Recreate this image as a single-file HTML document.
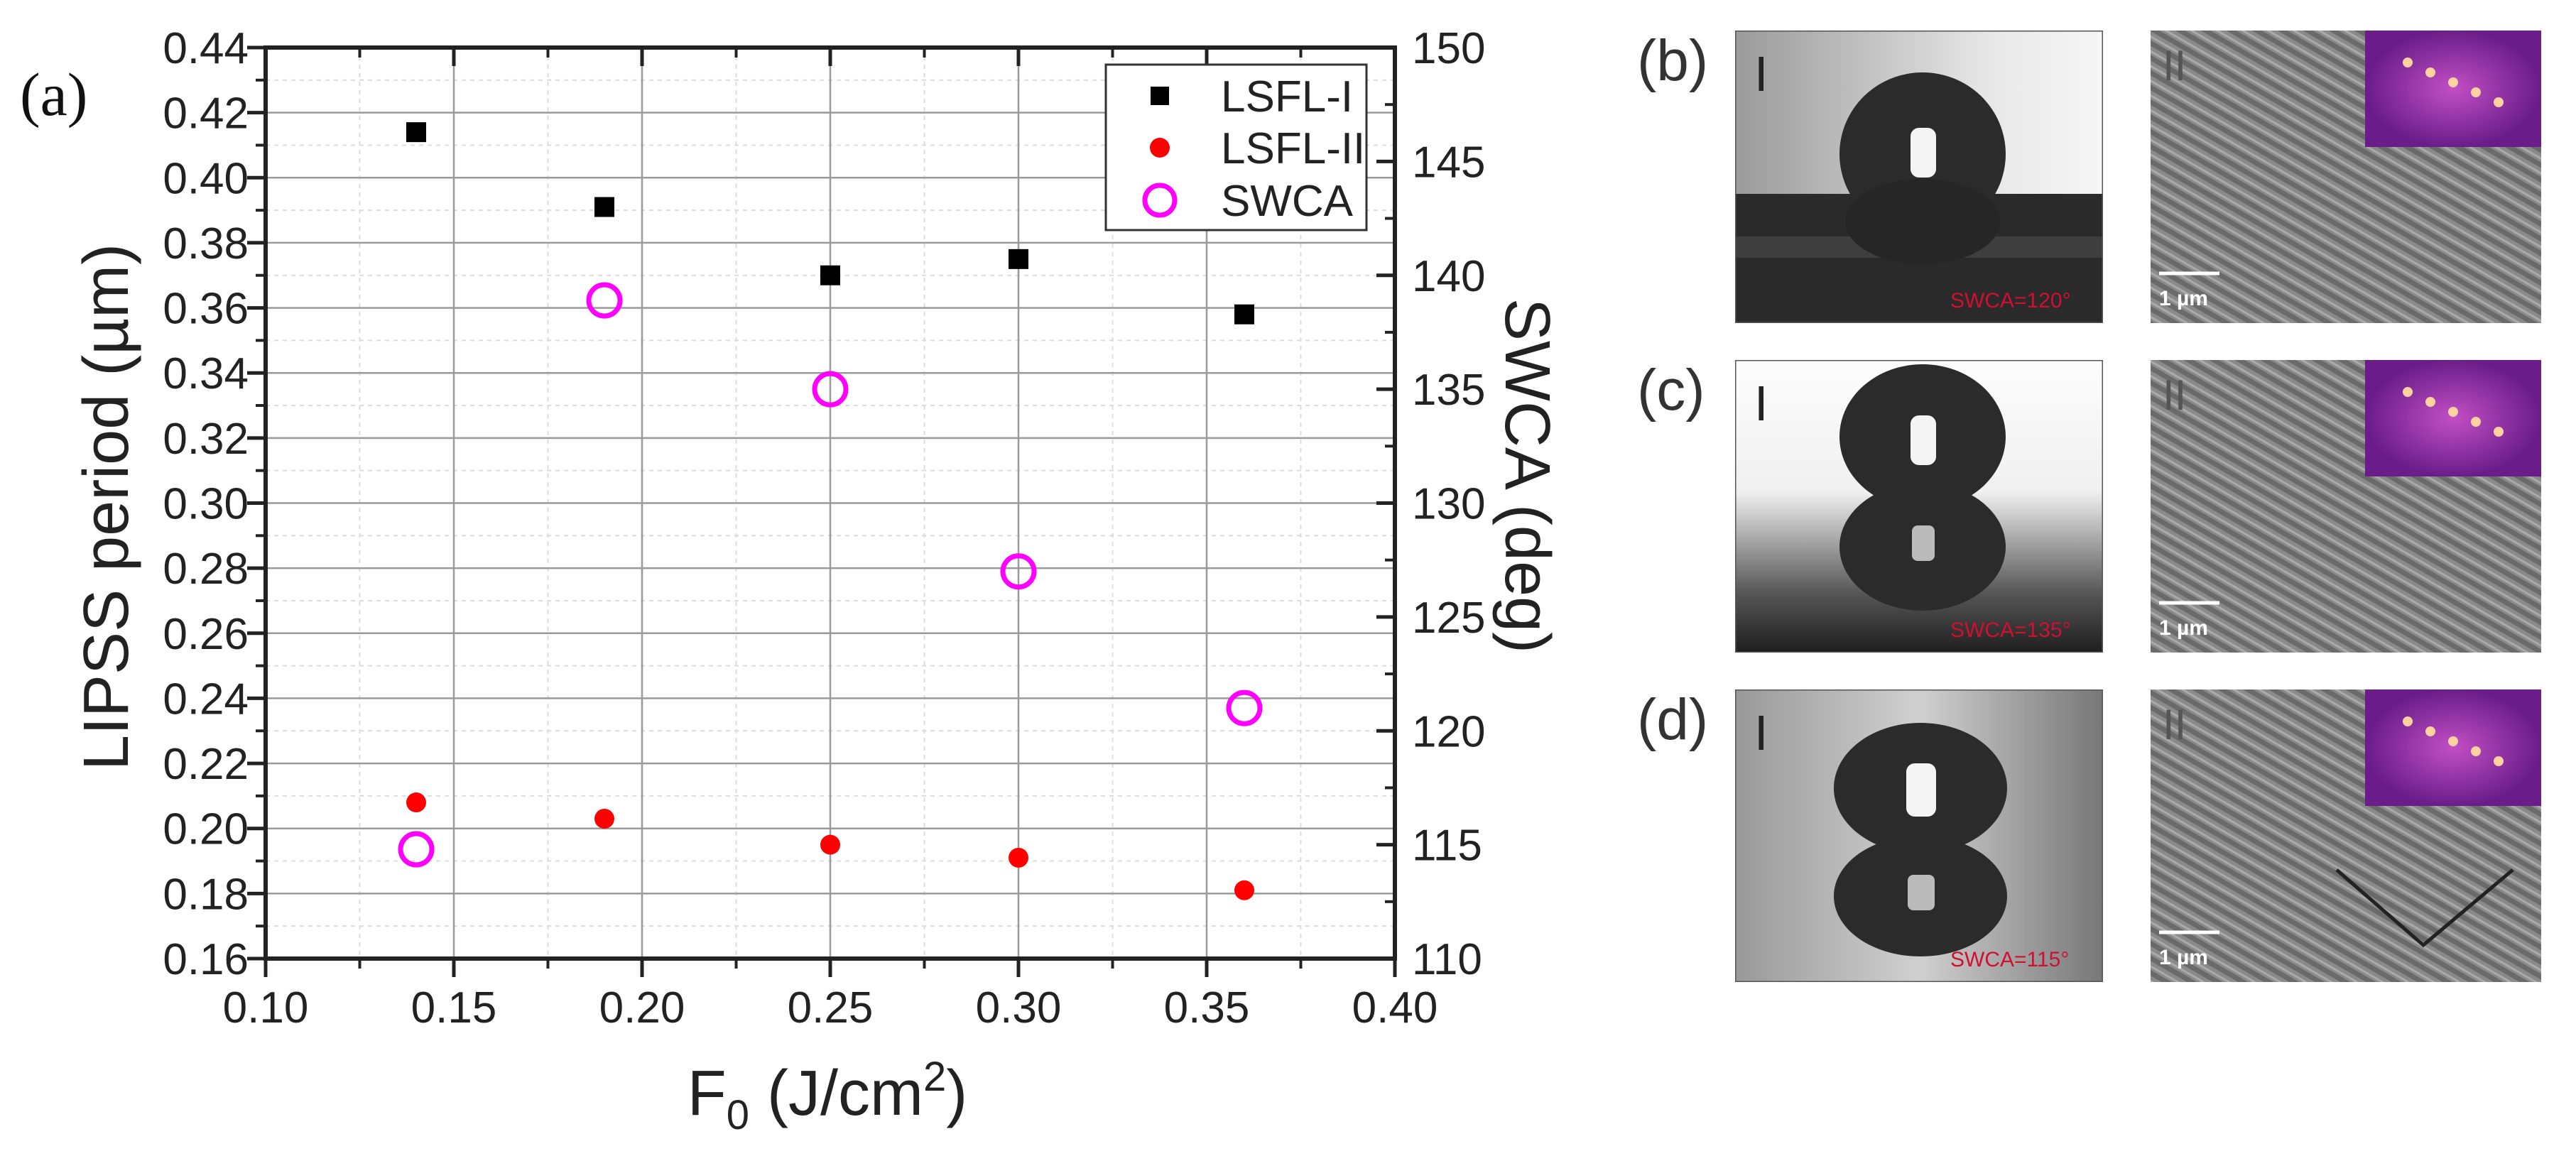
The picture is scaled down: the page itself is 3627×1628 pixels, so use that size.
<!DOCTYPE html>
<html><head><meta charset="utf-8"><style>
html,body{margin:0;padding:0;background:#fff}
body{width:3627px;height:1623px;overflow:hidden;position:relative;font-family:"Liberation Sans",sans-serif}
</style></head><body>
<svg id="fig" width="3627" height="1623" viewBox="0 0 3627 1623" xmlns="http://www.w3.org/2000/svg">
<defs>
<linearGradient id="bgB" x1="0" y1="0" x2="1" y2="0"><stop offset="0" stop-color="#9a9a9a"/><stop offset="0.7" stop-color="#e8e8e8"/><stop offset="1" stop-color="#f6f6f6"/></linearGradient>
<linearGradient id="bgC" x1="0" y1="0" x2="0" y2="1"><stop offset="0" stop-color="#fdfdfd"/><stop offset="0.45" stop-color="#f0f0f0"/><stop offset="0.8" stop-color="#555"/><stop offset="1" stop-color="#1e1e1e"/></linearGradient>
<linearGradient id="bgD" x1="0" y1="0" x2="1" y2="0"><stop offset="0" stop-color="#999"/><stop offset="0.5" stop-color="#d0d0d0"/><stop offset="1" stop-color="#777"/></linearGradient>
<radialGradient id="fft"><stop offset="0" stop-color="#c24fc4"/><stop offset="1" stop-color="#6a1d8a"/></radialGradient>
<pattern id="sem" width="18" height="18" patternUnits="userSpaceOnUse" patternTransform="rotate(-60)"><rect width="18" height="18" fill="#8a8a8a"/><rect width="7" height="18" fill="#6a6a6a"/><rect x="10" width="3" height="18" fill="#aaa"/></pattern>
<clipPath id="cb"><rect x="2443" y="43" width="518" height="412"/></clipPath>
<clipPath id="cc"><rect x="2443" y="507" width="518" height="412"/></clipPath>
<clipPath id="cd"><rect x="2443" y="971" width="518" height="412"/></clipPath>
</defs>
<g id="chart"></g>
<g id="panels"></g>
</svg>
<script>
const NS="http://www.w3.org/2000/svg";
const xCats=[0.14,0.19,0.25,0.30,0.36];
const lsfl1=[0.414,0.391,0.370,0.375,0.358];
const lsfl2=[0.208,0.203,0.195,0.191,0.181];
const swca=[114.8,138.9,135.0,127.0,121.0];
const xTicks=["0.10","0.15","0.20","0.25","0.30","0.35","0.40"];
const yTicks=["0.16","0.18","0.20","0.22","0.24","0.26","0.28","0.30","0.32","0.34","0.36","0.38","0.40","0.42","0.44"];
const y2Ticks=["110","115","120","125","130","135","140","145","150"];

const L=374,R=1964,T=67,B=1350;
const xS=v=>L+(v-0.10)/0.30*(R-L);
const yS=v=>B-(v-0.16)/0.28*(B-T);
const y2S=v=>B-(v-110)/40*(B-T);
function mk(tag,attrs,parent,text){const e=document.createElementNS(NS,tag);for(const k in attrs)e.setAttribute(k,attrs[k]);if(text!==undefined)e.textContent=text;parent.appendChild(e);return e;}
const g=document.getElementById('chart');

for(let i=0;i<yTicks.length-1;i++){const v=parseFloat(yTicks[i])+0.01;const l=mk('line',{x1:L,x2:R,y1:yS(v),y2:yS(v),stroke:'#dcdcdc','stroke-width':2,'stroke-dasharray':'6 6'},g);
}
for(let i=0;i<xTicks.length-1;i++){const v=parseFloat(xTicks[i])+0.025;const l=mk('line',{x1:xS(v),x2:xS(v),y1:T,y2:B,stroke:'#dcdcdc','stroke-width':2,'stroke-dasharray':'6 6'},g);
}
yTicks.forEach((t,i)=>{const v=parseFloat(t),y=yS(v);
const l=mk('line',{x1:L,x2:R,y1:y,y2:y,stroke:'#9a9a9a','stroke-width':2.5},g);

mk('line',{x1:L-26,x2:L,y1:y,y2:y,stroke:'#222','stroke-width':5},g);
if(i<yTicks.length-1)mk('line',{x1:L-14,x2:L,y1:yS(v+0.01),y2:yS(v+0.01),stroke:'#222','stroke-width':4},g);
const tx=mk('text',{x:L-24,y:y+22,'text-anchor':'end','font-size':62,fill:'#222'},g,t);
});
y2Ticks.forEach((t,i)=>{const v=parseFloat(t),y=y2S(v);
mk('line',{x1:R-26,x2:R,y1:y,y2:y,stroke:'#222','stroke-width':5},g);
if(i<y2Ticks.length-1)mk('line',{x1:R-14,x2:R,y1:y2S(v+2.5),y2:y2S(v+2.5),stroke:'#222','stroke-width':4},g);
const tx=mk('text',{x:R+24,y:y+22,'text-anchor':'start','font-size':62,fill:'#222'},g,t);
});
xTicks.forEach((t,i)=>{const v=parseFloat(t),x=xS(v);
const l=mk('line',{x1:x,x2:x,y1:T,y2:B,stroke:'#9a9a9a','stroke-width':2.5},g);

mk('line',{x1:x,x2:x,y1:B,y2:B+26,stroke:'#222','stroke-width':5},g);
mk('line',{x1:x,x2:x,y1:T,y2:T+26,stroke:'#222','stroke-width':5},g);
if(i<xTicks.length-1){mk('line',{x1:xS(v+0.025),x2:xS(v+0.025),y1:B,y2:B+14,stroke:'#222','stroke-width':4},g);
mk('line',{x1:xS(v+0.025),x2:xS(v+0.025),y1:T,y2:T+14,stroke:'#222','stroke-width':4},g);}
const tx=mk('text',{x:x,y:B+90,'text-anchor':'middle','font-size':62,fill:'#222'},g,t);
});
const frame=mk('rect',{x:L,y:T,width:R-L,height:B-T,fill:'none',stroke:'#222','stroke-width':6},g);


xCats.forEach((c,i)=>{
const s=mk('rect',{x:xS(c)-14,y:yS(lsfl1[i])-14,width:28,height:28,fill:'#000'},g);

const r=mk('circle',{cx:xS(c),cy:yS(lsfl2[i]),r:14,fill:'#f00'},g);

const o=mk('circle',{cx:xS(c),cy:y2S(swca[i]),r:22,fill:'none',stroke:'#f0f','stroke-width':7},g);
});

const lg=mk('g',{},g);
mk('rect',{x:1557,y:91,width:367,height:233,fill:'#fff',stroke:'#333','stroke-width':3},lg);
mk('rect',{x:1620,y:122,width:26,height:26,fill:'#000'},lg);
mk('circle',{cx:1633,cy:208,r:14,fill:'#f00'},lg);
mk('circle',{cx:1633,cy:282,r:21,fill:'none',stroke:'#f0f','stroke-width':7},lg);
[["LSFL-I",157],["LSFL-II",230],["SWCA",304]].forEach(a=>{const e=mk('text',{x:1719,y:a[1],'font-size':62,fill:'#222'},lg,a[0]);
});

let e;
e=mk('text',{x:0,y:0,'font-size':90,fill:'#222','text-anchor':'middle',transform:'translate(180,714) rotate(-90)'},g,'LIPSS period (µm)');

e=mk('text',{x:0,y:0,'font-size':90,fill:'#222','text-anchor':'middle',transform:'translate(2120,670) rotate(90)'},g,'SWCA (deg)');

e=mk('text',{x:1165,y:1570,'font-size':90,fill:'#222','text-anchor':'middle'},g);

e.innerHTML='F<tspan font-size="58" dy="20">0</tspan><tspan dy="-20"> (J/cm</tspan><tspan font-size="58" dy="-34">2</tspan><tspan dy="34">)</tspan>';
e=mk('text',{x:28,y:162,'font-size':86,fill:'#111','font-family':'Liberation Serif, serif'},g,'(a)');


const p=document.getElementById('panels');
const rows=[
 {lab:'(b)',y:43,bg:'url(#bgB)',clip:'url(#cb)',txt:'SWCA=120°',up:[2707,217,117,115],lo:null,hl:[2690,180,36,70]},
 {lab:'(c)',y:507,bg:'url(#bgC)',clip:'url(#cc)',txt:'SWCA=135°',up:[2707,615,117,102],lo:[2707,770,117,90],hl:[2690,585,36,70]},
 {lab:'(d)',y:971,bg:'url(#bgD)',clip:'url(#cd)',txt:'SWCA=115°',up:[2704,1110,122,92],lo:[2704,1262,122,85],hl:[2684,1075,42,75]}];
rows.forEach((r,i)=>{const h=412;
const lab=mk('text',{x:2305,y:r.y+70,'font-size':82,fill:'#333'},p,r.lab);

const im=mk('g',{'clip-path':r.clip},p);
mk('rect',{x:2443,y:r.y,width:518,height:h,fill:r.bg},im);
if(i===0){mk('rect',{x:2443,y:r.y+230,width:518,height:h-230,fill:'#2a2a2a'},im);mk('rect',{x:2443,y:r.y+290,width:518,height:30,fill:'#3e3e3e'},im);}
mk('ellipse',{cx:r.up[0],cy:r.up[1],rx:r.up[2],ry:r.up[3],fill:'#2b2b2b'},im);
if(r.lo)mk('ellipse',{cx:r.lo[0],cy:r.lo[1],rx:r.lo[2],ry:r.lo[3],fill:'#2b2b2b'},im);
else mk('ellipse',{cx:r.up[0],cy:r.up[1]+95,rx:r.up[2]-8,ry:60,fill:'#262626'},im);
mk('rect',{x:r.hl[0],y:r.hl[1],width:r.hl[2],height:r.hl[3],rx:12,fill:'#f4f4f4'},im);
if(r.lo)mk('rect',{x:r.hl[0]+2,y:r.lo[1]-30,width:r.hl[2]-4,height:50,rx:8,fill:'#bbb'},im);
mk('rect',{x:2443,y:r.y,width:518,height:h,fill:'none',stroke:'#555','stroke-width':3},im);
mk('text',{x:2470,y:r.y+85,'font-size':70,fill:'#222'},im,'I');
const st=mk('text',{x:2746,y:r.y+h-22,'font-size':30,fill:'#d01030'},im,r.txt);

const sm=mk('g',{},p);
mk('rect',{x:3028,y:r.y,width:550,height:h,fill:'url(#sem)'},sm);
mk('text',{x:3045,y:r.y+70,'font-size':60,fill:'#555'},sm,'II');
mk('rect',{x:3330,y:r.y,width:248,height:164,fill:'url(#fft)'},sm);
for(let k=0;k<5;k++)mk('circle',{cx:3390+k*32,cy:r.y+45+k*14,r:7,fill:'#ffd2a0'},sm);
mk('line',{x1:3040,x2:3125,y1:r.y+h-70,y2:r.y+h-70,stroke:'#fff','stroke-width':5},sm);
mk('text',{x:3040,y:r.y+h-25,'font-size':30,'font-weight':'bold',fill:'#fff'},sm,'1 µm');
if(i===2){mk('polyline',{points:'3290,1225 3412,1331 3538,1225',fill:'none',stroke:'#222','stroke-width':5},sm);}
});
</script>
</body></html>
